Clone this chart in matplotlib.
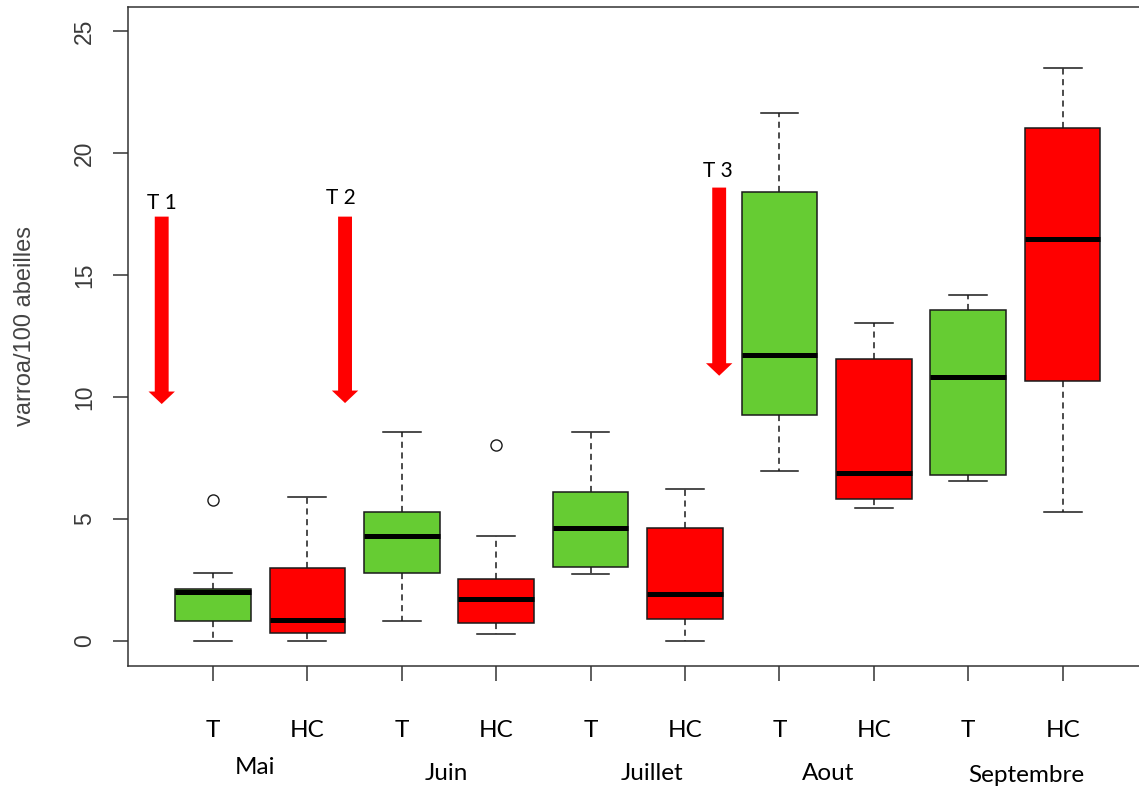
import matplotlib
matplotlib.use("Agg")
import matplotlib.pyplot as plt
import matplotlib.transforms as mtransforms

# ---- data ----
months = ["Mai", "Juin", "Juillet", "Aout", "Septembre"]
groups = ["T", "HC", "T", "HC", "T", "HC", "T", "HC", "T", "HC"]
whislo = [0.0, 0.0, 0.82, 0.29, 2.74, 0.0, 6.97, 5.44, 6.56, 5.29]
q1 = [0.81, 0.33, 2.79, 0.72, 3.05, 0.92, 9.26, 5.83, 6.80, 10.64]
med = [2.00, 0.87, 4.30, 1.72, 4.65, 1.93, 11.70, 6.90, 10.80, 16.48]
q3 = [2.12, 2.98, 5.29, 2.52, 6.09, 4.64, 18.40, 11.56, 13.55, 21.04]
whishi = [2.78, 5.89, 8.55, 4.30, 8.55, 6.22, 21.64, 13.05, 14.17, 23.46]
fliers = [[5.77], [], [], [8.02], [], [], [], [], [], []]
box_colors = ["#66CC33", "#FF0000"] * 5

# treatment arrows (x, top, tip) and labels
treat_labels = ["T 1", "T 2", "T 3"]
arrow_x = [0.457, 2.399, 6.362]
arrow_top = [17.39, 17.39, 18.58]
arrow_tip = [9.71, 9.75, 10.87]
label_xy = [(0.457, 17.95), (2.36, 18.16), (6.35, 19.26)]
month_x = [1.45, 3.47, 5.65, 7.52, 9.62]
month_ypx = [767, 774, 773, 773, 775]

W, H = 1139, 789
fig = plt.figure(figsize=(W / 100, H / 100), dpi=100)
ax = fig.add_axes([128 / W, (H - 666) / H, 1019.6 / W, 659 / H])

stats = []
for i in range(len(groups)):
    stats.append(dict(whislo=whislo[i], q1=q1[i], med=med[i], q3=q3[i],
                      whishi=whishi[i], fliers=fliers[i], label=groups[i]))

positions = list(range(1, len(groups) + 1))
bp = ax.bxp(stats, positions=positions, widths=0.8, patch_artist=True,
            showfliers=True,
            boxprops=dict(edgecolor="#1a1a1a", linewidth=1.1),
            medianprops=dict(color="black", linewidth=3.6, solid_capstyle="butt"),
            whiskerprops=dict(color="#1a1a1a", linewidth=1.1, linestyle=(0, (4, 3))),
            capprops=dict(color="#1a1a1a", linewidth=1.1),
            capwidths=0.4,
            flierprops=dict(marker="o", markersize=8, markerfacecolor="none",
                            markeredgecolor="#1a1a1a", markeredgewidth=1.0))
for patch, c in zip(bp["boxes"], box_colors):
    patch.set_facecolor(c)

ax.set_xlim(0.1, 10.9)
ax.set_ylim(-1.025, 25.98)
ax.set_yticks([0, 5, 10, 15, 20, 25])
ax.set_xticks(positions)
ax.set_xticklabels(groups, fontfamily="Lato", fontsize=17.5, color="black")
ax.tick_params(axis="x", length=11, width=1.1, color="#333333", pad=28)
ax.tick_params(axis="y", length=11, width=1.1, color="#333333", pad=12,
               labelsize=16.5, labelcolor="#3a3a3a")
for lab in ax.get_yticklabels():
    lab.set_rotation(90)
    lab.set_va("center")
    lab.set_fontfamily("Liberation Sans")
for s in ax.spines.values():
    s.set_color("#333333")
    s.set_linewidth(1.1)

fig.text(25 / W, 1 - 326 / H, "varroa/100 abeilles", rotation=90,
         ha="center", va="center", fontsize=17, family="Liberation Sans",
         color="#444444")

trans = mtransforms.blended_transform_factory(ax.transData, fig.transFigure)
for m, x, ypx in zip(months, month_x, month_ypx):
    ax.text(x, 1 - ypx / H, m, transform=trans, ha="center", va="center",
            fontsize=17.5, family="Lato", color="black", clip_on=False)

for lab, x, yt, yb, (tx, ty) in zip(treat_labels, arrow_x, arrow_top, arrow_tip, label_xy):
    ax.annotate("", xy=(x, yb), xytext=(x, yt),
                arrowprops=dict(arrowstyle="simple,head_length=9,head_width=19,tail_width=10",
                                mutation_scale=1, color="#FF0000", shrinkA=0, shrinkB=0,
                                linewidth=0))
    ax.text(tx, ty, lab, ha="center", va="center", fontsize=15, family="Lato",
            color="black")

fig.savefig("out.png", dpi=100)
